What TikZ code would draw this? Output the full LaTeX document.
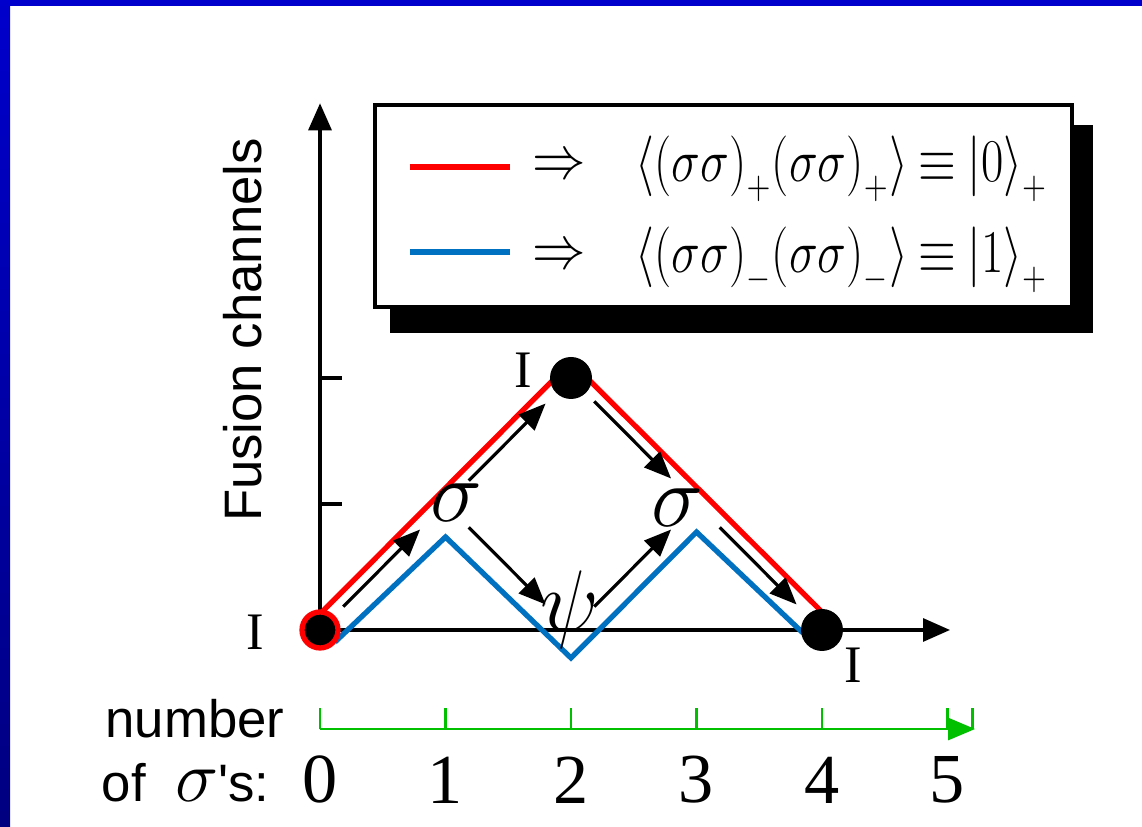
\documentclass[tikz,border=0pt]{standalone}
\usepackage{fontspec}
\usepackage{graphicx}
\setmainfont{Liberation Serif}
\newfontfamily\labelsans{Liberation Sans}
\usetikzlibrary{arrows.meta,positioning}
\definecolor{frametop}{RGB}{0,0,204}
\definecolor{framebottom}{RGB}{0,0,128}
\definecolor{pathred}{RGB}{255,0,0}
\definecolor{pathblue}{RGB}{0,112,192}
\definecolor{scalegreen}{RGB}{0,192,0}
\newcommand{\narrowimp}{\scalebox{0.88}[1]{$\Rightarrow$}}
\newcommand{\tighteq}{\mskip4mu{\equiv}\mskip4mu}
\newcommand{\narrowket}[1]{\scalebox{0.8}[1]{#1}}
\begin{document}
\begin{tikzpicture}[x=1.255cm, y=1.26cm,
  fusiondot/.style={circle, fill=black, inner sep=0pt, minimum size=0.42cm},
  axisline/.style={line width=0.9pt},
  flowarrow/.style={line width=0.9pt, -{Triangle[length=0.27cm,width=0.22cm]}, shorten <=0.33cm, shorten >=0.36cm},
  redpath/.style={pathred, line width=1.5pt},
  bluepath/.style={pathblue, line width=1.5pt},
  lbl/.style={font=\fontsize{24}{26}\selectfont, inner sep=0pt},
  numlbl/.style={font=\fontsize{20}{22}\selectfont, inner sep=0pt},
  chanlbl/.style={font=\fontsize{15}{18}\selectfont, inner sep=0pt},
  sanslbl/.style={font=\labelsans\fontsize{15}{18}\selectfont, inner sep=0pt},
  legendtext/.style={font=\fontsize{16}{18}\selectfont, inner sep=0pt, anchor=west}]
\useasboundingbox (-2.55,-1.563) rectangle (6.55,5.0);
% slide frame
\fill[frametop] (-2.55,4.952) rectangle (6.55,5.0);
\shade[top color=frametop, bottom color=framebottom] (-2.55,-1.563) rectangle (-2.47,5.0);

% lattice points
\coordinate (c0) at (0,0);
\coordinate (c1) at (1,1);
\coordinate (c2) at (2,2);
\coordinate (c3) at (2,0);
\coordinate (c4) at (3,1);
\coordinate (c5) at (4,0);
\coordinate (ytop) at (0,4.18);
\coordinate (xend) at (5.02,0);

% axes
\draw[axisline, -{Triangle[length=0.27cm,width=0.23cm]}] (c0) -- (ytop);
\draw[axisline, -{Triangle[length=0.27cm,width=0.23cm]}] (c0) -- (xend);
\foreach \y in {1,2}
  \draw[axisline] (0,\y) -- (0.175,\y);
\node[sanslbl, rotate=90] (ylabel) at (-0.614,2.381) {Fusion channels};

% legend
\node[fill=black, minimum width=7.03cm, minimum height=2.08cm] (shadow) at (3.359,3.183) {};
\node[draw, fill=white, line width=0.9pt, minimum width=6.97cm, minimum height=2.02cm] (legend) at (3.215,3.365) {};
\draw[redpath] (0.717,3.675) -- (1.514,3.675);
\draw[bluepath] (0.717,3.0) -- (1.514,3.0);
\node[legendtext] (imp0) at (1.69,3.675) {\narrowimp};
\node[legendtext] (imp1) at (1.69,2.96) {\narrowimp};
\node[legendtext] (ket0) at (2.51,3.66)
  {\narrowket{$\big\langle\big(\sigma\sigma\big)_{+}\big(\sigma\sigma\big)_{+}\big\rangle\tighteq\big|0\big\rangle_{+}$}};
\node[legendtext] (ket1) at (2.51,2.94)
  {\narrowket{$\big\langle\big(\sigma\sigma\big)_{-}\big(\sigma\sigma\big)_{-}\big\rangle\tighteq\big|1\big\rangle_{+}$}};

% fusion paths
\draw[bluepath] ([shift={(0.15cm,-0.12cm)}]c0) -- ([yshift=-0.33cm]c1) -- ([yshift=-0.28cm]c3)
  -- ([yshift=-0.28cm]c4) -- ([shift={(-0.19cm,-0.03cm)}]c5);
\draw[redpath] ([yshift=0.16cm]c0) -- ([yshift=0.16cm]c2) -- ([yshift=0.18cm]c5);

% fusion steps
\draw[flowarrow] (c0) -- (c1);
\draw[flowarrow] (c1) -- (c2);
\draw[flowarrow] (c1) -- (c3);
\draw[flowarrow] (c3) -- (c4);
\draw[flowarrow] (c2) -- (c4);
\draw[flowarrow] (c4) -- (c5);

% states
\node[fusiondot, draw=pathred, line width=1.5pt, minimum size=0.36cm] (i0) at (c0) {};
\node[fusiondot] (itop) at (c2) {};
\node[fusiondot] (iend) at (c5) {};
\node[chanlbl] (l0) at (-0.518,-0.016) {I};
\node[chanlbl] (l2) at (1.62,2.06) {I};
\node[chanlbl] (l5) at (4.25,-0.28) {I};
\node[lbl] (sig1) at (1.09,1.01) {$\sigma$};
\node[lbl] (psi) at (1.99,0.16) {$\psi$};
\node[lbl] (sig2) at (2.85,0.97) {$\sigma$};

% number of sigmas
\coordinate (g0) at (0,-0.786);
\coordinate (g5) at (5.22,-0.786);
\draw[scalegreen, line width=0.8pt, -{Triangle[length=0.27cm,width=0.22cm]}] (g0) -- (g5);
\foreach \i in {0,...,5} {
  \draw[scalegreen, line width=0.8pt] (\i,-0.786) -- (\i,-0.62);
  \node[numlbl] (n\i) at (\i,-1.19) {\i};
}
\draw[scalegreen, line width=0.8pt] (5.2,-0.786) -- (5.2,-0.62);
\node[sanslbl] (numtext) at (-0.996,-0.70) {number};
\node[sanslbl] (oftext) at (-1.07,-1.21) {of\ \ {\fontsize{21}{22}\selectfont$\sigma$}'s:};
\end{tikzpicture}
\end{document}
